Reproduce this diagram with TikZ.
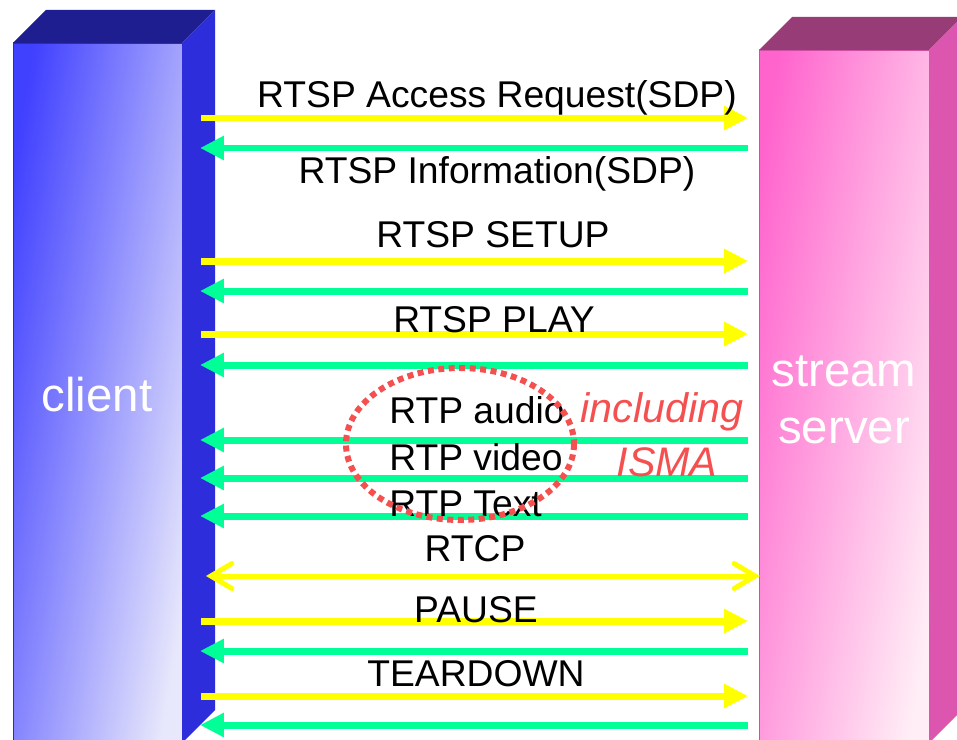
\documentclass[tikz,border=0pt]{standalone}
\usepackage{fontspec}
\setmainfont{Liberation Sans}
\usetikzlibrary{arrows.meta}
\definecolor{cliL}{RGB}{64,64,255}
\definecolor{cliR}{RGB}{232,232,252}
\definecolor{cliTop}{RGB}{30,30,145}
\definecolor{cliSide}{RGB}{45,45,220}
\definecolor{srvL}{RGB}{255,100,205}
\definecolor{srvR}{RGB}{255,238,246}
\definecolor{srvTop}{RGB}{152,60,120}
\definecolor{srvSide}{RGB}{220,85,175}
\definecolor{msgY}{RGB}{255,255,0}
\definecolor{msgG}{RGB}{0,255,150}
\definecolor{hiRed}{RGB}{245,80,80}

\begin{document}
\begin{tikzpicture}[x=0.02cm,y=-0.02cm,
  send/.style={draw=msgY,line width=0.14cm,-{Triangle[length=0.48cm,width=0.46cm]}},
  reply/.style={draw=msgG,line width=0.14cm,-{Triangle[length=0.48cm,width=0.46cm]}},
  both/.style={draw=msgY,line width=0.1cm,{Straight Barb[length=0.42cm,width=0.5cm,line cap=round]}-{Straight Barb[length=0.42cm,width=0.5cm,line cap=round]}},
  msg/.style={inner sep=0pt,anchor=base,font=\fontsize{21.2}{25}\selectfont},
  box/.style={text=white,align=center,font=\fontsize{27}{32}\selectfont}]
\useasboundingbox (0,0) rectangle (957,740);
\fill[white] (0,0) rectangle (957,740);
\shade[left color=cliL,right color=cliR,shading angle=80] (13,43) rectangle (182,743);
\draw[cliL!70!black,line width=0.4pt] (13,743) -- (13,43) -- (182,43);
\fill[cliTop] (13,43) -- (46,10) -- (215,10) -- (182,43) -- cycle;
\fill[cliSide] (182,43) -- (215,10) -- (215,710) -- (182,743) -- cycle;
\shade[left color=srvL,right color=srvR,shading angle=80] (759,50) rectangle (929,743);
\draw[srvL!80!black,line width=0.4pt] (759,743) -- (759,50) -- (929,50);
\fill[srvTop] (759,50) -- (792,17) -- (962,17) -- (929,50) -- cycle;
\fill[srvSide] (929,50) -- (962,17) -- (962,710) -- (929,743) -- cycle;
\node[box] (client) at (97,395) {client};
\node[box] (server) at (844,400) {stream\\server};
\coordinate (c1) at (201,118); \coordinate (s1) at (748,118);
\coordinate (c2) at (200,148); \coordinate (s2) at (748,148);
\coordinate (c3) at (201,261); \coordinate (s3) at (748,261);
\coordinate (c4) at (200,291); \coordinate (s4) at (748,291);
\coordinate (c5) at (201,334); \coordinate (s5) at (748,334);
\coordinate (c6) at (200,365); \coordinate (s6) at (748,365);
\coordinate (c7) at (200,440); \coordinate (s7) at (748,440);
\coordinate (c8) at (200,478); \coordinate (s8) at (748,478);
\coordinate (c9) at (200,516); \coordinate (s9) at (748,516);
\coordinate (c10) at (206,576); \coordinate (s10) at (760,576);
\coordinate (c11) at (201,621); \coordinate (s11) at (748,621);
\coordinate (c12) at (200,651); \coordinate (s12) at (748,651);
\coordinate (c13) at (201,696); \coordinate (s13) at (748,696);
\coordinate (c14) at (200,725); \coordinate (s14) at (748,725);
\draw[send] (c1) -- (s1);
\draw[reply] (s2) -- (c2);
\draw[send] (c3) -- (s3);
\draw[reply] (s4) -- (c4);
\draw[send] (c5) -- (s5);
\draw[reply] (s6) -- (c6);
\draw[reply] (s7) -- (c7);
\draw[reply] (s8) -- (c8);
\draw[reply] (s9) -- (c9);
\draw[both] (c10) -- (s10);
\draw[send] (c11) -- (s11);
\draw[reply] (s12) -- (c12);
\draw[send] (c13) -- (s13);
\draw[reply] (s14) -- (c14);
\node[msg] (access) at (497,108) {RTSP Access Request(SDP)};
\node[msg] (info) at (497,183) {RTSP Information(SDP)};
\node[msg] (setup) at (493,247) {RTSP SETUP};
\node[msg] (play) at (494,332) {RTSP PLAY};
\node[msg,anchor=base west] (audio) at (389,423) {RTP audio};
\node[msg,anchor=base west] (video) at (389,470) {RTP video};
\node[msg,anchor=base west] (text) at (389,516) {RTP Text};
\node[msg] (rtcp) at (475,561) {RTCP};
\node[msg] (pause) at (476,622) {PAUSE};
\node[msg] (teardown) at (476,686) {TEARDOWN};
\draw[hiRed,line width=0.12cm,dash pattern=on 0.12cm off 0.09cm] (460,444) ellipse [x radius=114,y radius=76];
\node[text=hiRed,font=\fontsize{23.5}{28}\itshape] (incl) at (662,412) {including};
\node[text=hiRed,font=\fontsize{23.5}{28}\itshape] (isma) at (667,462) {ISMA};
\end{tikzpicture}
\end{document}
